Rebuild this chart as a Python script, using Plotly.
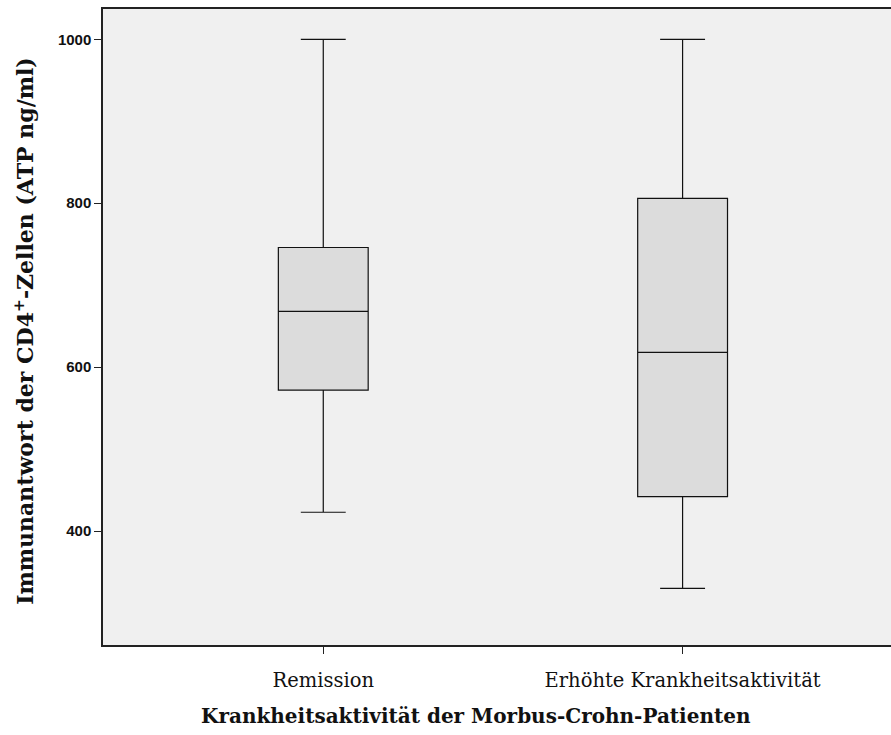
import plotly.graph_objects as go

# Summary statistics of the CD4+ immune response per disease-activity group
categories = ["Remission", "Erhöhte Krankheitsaktivität"]
lower_whisker = [423, 330]
q1_values = [572, 442]
median_values = [668, 618]
q3_values = [746, 806]
upper_whisker = [1000, 1000]
y_ticks = [400, 600, 800, 1000]

fig = go.Figure()
fig.add_trace(go.Box(
    x=categories,
    q1=q1_values,
    median=median_values,
    q3=q3_values,
    lowerfence=lower_whisker,
    upperfence=upper_whisker,
    fillcolor="#dcdcdc",
    line=dict(color="#111111", width=1.2),
    width=0.25,
    whiskerwidth=0.5,
    boxpoints=False,
    hoverinfo="skip",
    showlegend=False,
))

fig.update_layout(
    width=891, height=735,
    margin=dict(l=103, r=0, t=9, b=90),
    paper_bgcolor="white",
    plot_bgcolor="#f0f0f0",
    showlegend=False,
    xaxis=dict(
        type="category",
        range=[-0.613, 1.58],
        showline=True, linecolor="#222222", linewidth=1.5, mirror=True,
        ticks="outside", ticklen=7, tickcolor="#222222", tickwidth=1,
        ticklabelstandoff=10,
        showgrid=False, zeroline=False,
        tickfont=dict(family="DejaVu Serif", size=19.5, color="#111111"),
    ),
    yaxis=dict(
        range=[261, 1037],
        tickvals=y_ticks,
        ticktext=[f"<b>{v}</b>" for v in y_ticks],
        showline=True, linecolor="#222222", linewidth=1.5,
        ticks="outside", ticklen=7, tickcolor="#222222", tickwidth=1,
        showgrid=False, zeroline=False,
        tickfont=dict(family="Liberation Sans", size=15, color="#111111"),
    ),
    annotations=[
        dict(
            text="<b>Immunantwort der CD4<sup>+</sup>-Zellen (ATP ng/ml)</b>",
            xref="paper", yref="paper", x=0, y=0.494,
            xanchor="center", yanchor="middle", xshift=-79,
            textangle=-90, showarrow=False,
            font=dict(family="DejaVu Serif", size=22, color="#111111"),
        ),
        dict(
            text="<b>Krankheitsaktivität der Morbus-Crohn-Patienten</b>",
            xref="paper", yref="paper", x=0.473, y=0,
            xanchor="center", yanchor="middle", yshift=-71,
            showarrow=False,
            font=dict(family="DejaVu Serif", size=20, color="#111111"),
        ),
    ],
)

fig.write_html("out.html")
